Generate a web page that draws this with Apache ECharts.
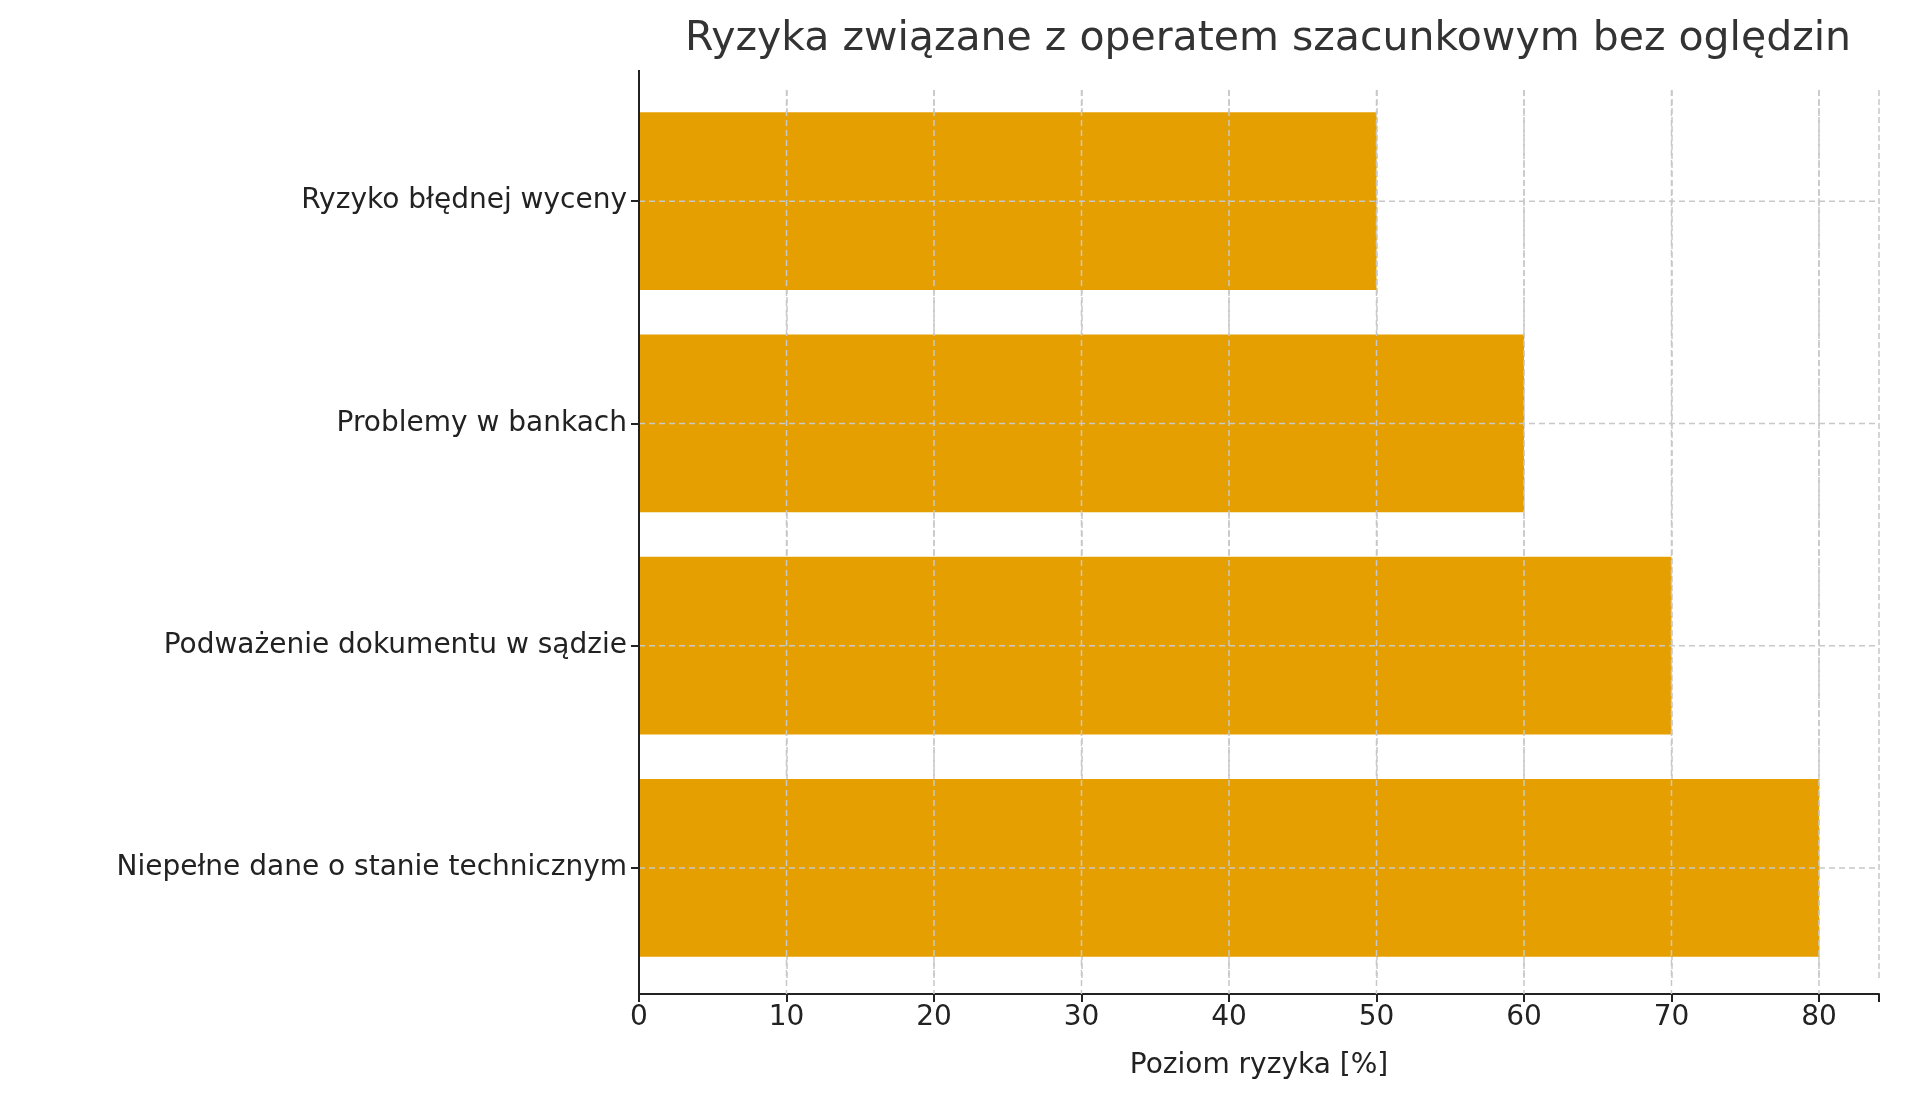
<!DOCTYPE html>
<html>
<head>
<meta charset="utf-8">
<script src="https://cdn.jsdelivr.net/npm/echarts@6/dist/echarts.min.js"></script>
<style>html,body{margin:0;padding:0;background:#fff}#main{width:1909px;height:1101px}</style>
</head>
<body>
<div id="main"></div>
<script>
var categories = ['Niepełne dane o stanie technicznym', 'Podważenie dokumentu w sądzie', 'Problemy w bankach', 'Ryzyko błędnej wyceny'];
var values = [80, 70, 60, 50];

var myChart = echarts.init(document.getElementById('main'));
var font = 'DejaVu Sans';
var option = {
    backgroundColor: '#fff',
    animation: false,
    title: {
        text: 'Ryzyka związane z operatem szacunkowym bez oględzin',
        left: 1263, top: 14, textAlign: 'center',
        textStyle: { fontFamily: font, fontSize: 41, fontWeight: 'normal', color: '#333' }
    },
    grid: { left: 639, top: 90, width: 1240, height: 889 },
    xAxis: {
        type: 'value', min: 0, max: 84.07, interval: 10, offset: 15,
        name: 'Poziom ryzyka [%]', nameLocation: 'middle', nameGap: 58,
        nameTextStyle: { fontFamily: font, fontSize: 28, color: '#222' },
        axisLine: { show: true, lineStyle: { color: '#222', width: 2 } },
        axisTick: { show: true, length: 8, lineStyle: { color: '#222', width: 2 } },
        axisLabel: { fontFamily: font, fontSize: 28, color: '#222', margin: 10,
            formatter: function (v) { return v % 10 === 0 ? v : ''; } },
        splitLine: { show: true, lineStyle: { color: '#c8c8c8', type: 'dashed', width: 1.5 } }
    },
    yAxis: {
        type: 'category', data: categories,
        axisLine: { show: true, lineStyle: { color: '#222', width: 2 } },
        axisTick: { show: true, alignWithLabel: true, length: 8, lineStyle: { color: '#222', width: 2 } },
        axisLabel: { fontFamily: font, fontSize: 28, color: '#222', margin: 12 },
        splitLine: { show: false }
    },
    series: [{
        type: 'bar', data: values, barCategoryGap: '20%',
        itemStyle: { color: '#e69f00' }, z: 1
    }, {
        type: 'line', data: values.map(function () { return null; })
    }]
};
option.series.pop();
myChart.setOption(option);

// horizontal dashed gridlines at category centers, drawn on top of bars like matplotlib
var gl = [];
categories.forEach(function (c) {
    var p0 = myChart.convertToPixel({ gridIndex: 0 }, [0, c]);
    var p1 = myChart.convertToPixel({ gridIndex: 0 }, [84.07, c]);
    gl.push({ type: 'line', shape: { x1: p0[0], y1: p0[1], x2: p1[0], y2: p1[1] },
        style: { stroke: '#c8c8c8', lineWidth: 1.5, lineDash: [6, 4] }, z: 5 });
});
[10,20,30,40,50,60,70,80].forEach(function (v) {
    var p0 = myChart.convertToPixel({ gridIndex: 0 }, [v, categories[0]]);
    var p1 = myChart.convertToPixel({ gridIndex: 0 }, [v, categories[3]]);
    gl.push({ type: 'line', shape: { x1: p0[0], y1: 90, x2: p1[0], y2: 994 },
        style: { stroke: '#c8c8c8', lineWidth: 1.5, lineDash: [6, 4] }, z: 5 });
});
// y axis line extends to x axis
gl.push({ type: 'line', shape: { x1: 639, y1: 70, x2: 639, y2: 994 }, style: { stroke: '#222', lineWidth: 2 }, z: 6 });
myChart.setOption({ graphic: gl });
</script>
</body>
</html>
